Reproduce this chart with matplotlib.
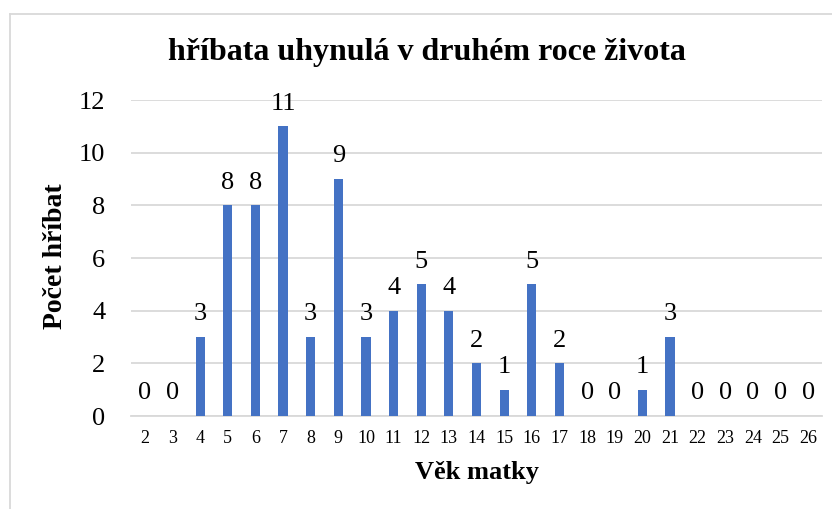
import matplotlib
matplotlib.use("Agg")
import matplotlib.pyplot as plt
from matplotlib.lines import Line2D

ages = [str(a) for a in range(2, 27)]
counts = [0, 0, 3, 8, 8, 11, 3, 9, 3, 4, 5, 4, 2, 1, 5, 2, 0, 0, 1, 3, 0, 0, 0, 0, 0]
title = "hříbata uhynulá v druhém roce života"
xlabel = "Věk matky"
ylabel = "Počet hříbat"
yticks = [0, 2, 4, 6, 8, 10, 12]

plt.rcParams['font.family'] = ['Liberation Serif', 'DejaVu Serif']

fig = plt.figure(figsize=(8.32, 5.09), dpi=100)
ax = fig.add_axes([0.1575, 0.1827, 0.8305, 0.6208])

x = list(range(len(ages)))
bars = ax.bar(x, counts, width=0.33, color='#4472C4', zorder=3)
ax.set_xlim(-0.5, len(ages) - 0.5)
ax.set_ylim(0, 12)
ax.set_yticks(yticks)
ax.set_xticks(x)
ax.set_xticklabels(ages, fontsize=13)
ax.tick_params(axis='y', labelsize=19, length=0, pad=18.5)
ax.tick_params(axis='x', length=0, pad=10)
ax.grid(axis='y', color='#D9D9D9', linewidth=1.3, zorder=0)
for s in ['top', 'right', 'left']:
    ax.spines[s].set_visible(False)
ax.spines['bottom'].set_color('#D9D9D9')
ax.spines['bottom'].set_linewidth(1.3)

for xi, v in zip(x, counts):
    ax.annotate(str(v), (xi, v), xytext=(0, 12), textcoords='offset points',
                ha='center', va='baseline', fontsize=19)

fig.text(0.513, 0.896, title, ha='center', va='center', fontsize=23, fontweight='bold')
ax.set_xlabel(xlabel, fontsize=19, fontweight='bold', va='baseline')
ax.xaxis.set_label_coords(0.5, -0.199)
ax.set_ylabel(ylabel, fontsize=20, fontweight='bold', va='center', ha='center')
ax.yaxis.set_label_coords(-0.110, 0.505)

fig.add_artist(Line2D([10/832, 10/832], [0, 1 - 14/509], color='#D9D9D9', linewidth=1.3))
fig.add_artist(Line2D([10/832, 1], [1 - 14/509, 1 - 14/509], color='#D9D9D9', linewidth=1.3))

fig.savefig("out.png", dpi=100)
